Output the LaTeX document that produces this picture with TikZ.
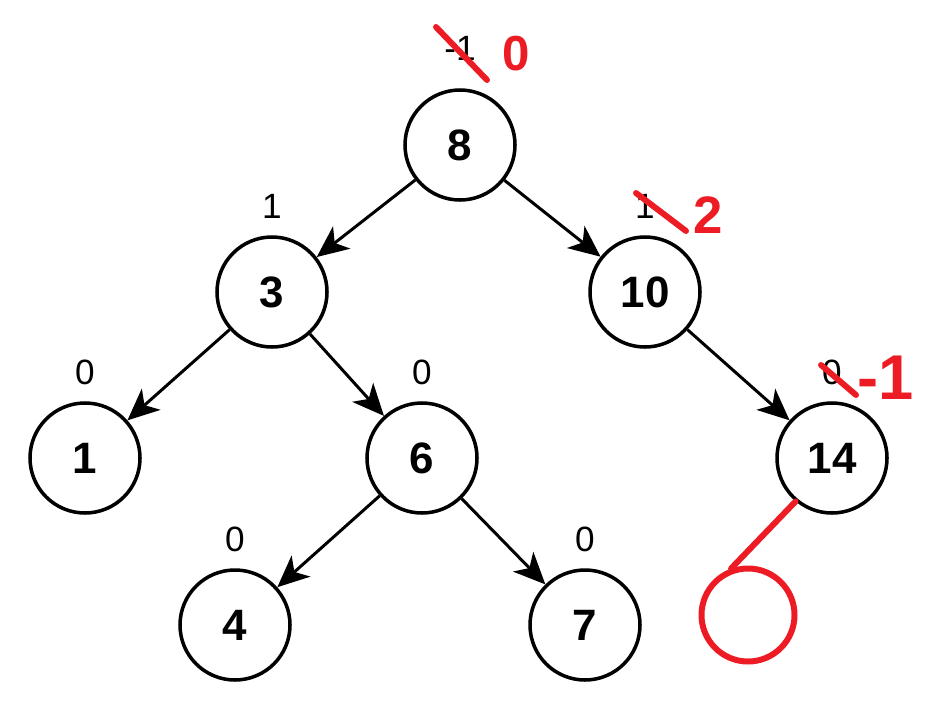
\documentclass[tikz,border=0pt]{standalone}
\usepackage{fontspec}
\setmainfont{Liberation Sans}
\usetikzlibrary{arrows.meta}
\definecolor{penred}{RGB}{237,28,36}

\tikzset{
  avl/.style={circle, draw, line width=1pt, minimum size=1.1cm, inner sep=0pt,
              font=\fontsize{12.5}{14}\selectfont\bfseries},
  bf/.style={font=\fontsize{10}{12}\selectfont, inner sep=0pt},
  pen/.style={penred, line width=1.7pt, line cap=round},
  pentext/.style={penred, inner sep=0pt}
}

\begin{document}
\begin{tikzpicture}[>={Stealth[length=9pt,width=8pt,inset=2.5pt]}]
    \useasboundingbox (0,0) rectangle (9.3,-7.1);

    % 1. Knoten des Baums
    \node[avl, label={[bf, label distance=0.27cm]above:-1}] (n8) at (4.60,-1.45) {8};
    \node[avl, label={[bf, label distance=0.16cm]above:1}] (n3) at (2.72,-2.92) {3};
    \node[avl, label={[bf, label distance=0.16cm]above:1}] (n10) at (6.45,-2.92) {10};
    \node[avl, label={[bf, label distance=0.16cm]above:0}] (n1) at (0.85,-4.58) {1};
    \node[avl, label={[bf, label distance=0.16cm]above:0}] (n6) at (4.22,-4.58) {6};
    \node[avl, label={[bf, label distance=0.16cm]above:0}] (n14) at (8.32,-4.58) {14};
    \node[avl, label={[bf, label distance=0.16cm]above:0}] (n4) at (2.35,-6.25) {4};
    \node[avl, label={[bf, label distance=0.16cm]above:0}] (n7) at (5.85,-6.25) {7};

    % 2. Kanten
    \draw[->, line width=0.85pt] (n8) -- (n3);
    \draw[->, line width=0.85pt] (n8) -- (n10);
    \draw[->, line width=0.85pt] (n3) -- (n1);
    \draw[->, line width=0.85pt] (n3) -- (n6);
    \draw[->, line width=0.85pt] (n10) -- (n14);
    \draw[->, line width=0.85pt] (n6) -- (n4);
    \draw[->, line width=0.85pt] (n6) -- (n7);

    % 3. neuer Knoten (rot)
    \node[circle, draw=penred, line width=1.7pt, minimum size=0.93cm] (new) at (7.48,-6.15) {};
    \draw[pen] (n14.230) -- (new.110);

    % 4. Korrekturen der Balancefaktoren
    \draw[pen] (4.36,-0.27) -- (4.87,-0.80);
    \node[pentext, font=\fontsize{14}{16}\selectfont\bfseries] (c8) at (5.16,-0.54) {0};
    \draw[pen] (6.36,-1.93) -- (6.86,-2.31);
    \node[pentext, font=\fontsize{15}{17}\selectfont\bfseries] (c10) at (7.08,-2.15) {2};
    \draw[pen] (8.21,-3.65) -- (8.56,-3.95);
    \node[pentext, font=\fontsize{18}{20}\selectfont\bfseries] (c14) at (8.86,-3.78) {-1};
\end{tikzpicture}
\end{document}
